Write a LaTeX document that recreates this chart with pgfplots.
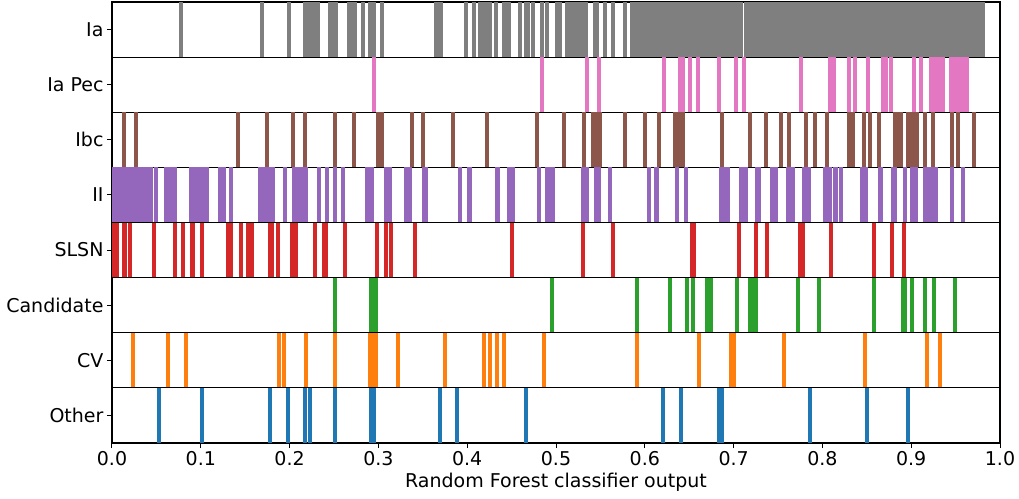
\documentclass[border=0pt]{standalone}
\usepackage{pgfplots}
\pgfplotsset{compat=1.18}
\usepackage{fontspec}
\setmainfont{DejaVu Sans}
\definecolor{cgray}{HTML}{7F7F7F}
\definecolor{cpink}{HTML}{E377C2}
\definecolor{cbrown}{HTML}{8C564B}
\definecolor{cpurple}{HTML}{9467BD}
\definecolor{cred}{HTML}{D62728}
\definecolor{cgreen}{HTML}{2CA02C}
\definecolor{corange}{HTML}{FF7F0E}
\definecolor{cblue}{HTML}{1F77B4}
\pgfplotsset{
  rug/.style={
    scale only axis, width=888pt, height=55.125pt,
    anchor=north west,
    xmin=0, xmax=1, ymin=0, ymax=1,
    ytick={0.5}, xtick=\empty,
    tick align=outside, major tick length=5pt,
    tick pos=left,
    axis line style={black, line width=1.1pt},
    tick style={black, line width=1pt},
    every tick label/.append style={font=\fontsize{19}{22}\selectfont},
    label style={font=\fontsize{19}{22}\selectfont},
    clip=true,
  },
  rl/.style={ycomb, no marks, line width=4pt, color=#1},
}
\begin{document}
\begin{tikzpicture}
\path (-112pt,2pt) rectangle (907pt,-496pt);
% Ia
\begin{axis}[rug, at={(0pt,0pt)}, yticklabels={Ia}]
\addplot[rl=cgray] coordinates {(0.0777,1)(0.169,1)(0.199,1)
(0.2173,1)(0.2213,1)(0.2253,1)(0.2293,1)(0.2324,1)
(0.246,1)(0.2495,1)(0.2518,1)
(0.2673,1)(0.271,1)(0.2733,1)
(0.2825,1)(0.291,1)(0.2948,1)(0.304,1)
(0.3643,1)(0.368,1)(0.3708,1)
(0.3987,1)(0.408,1)
(0.4148,1)(0.4188,1)(0.4228,1)(0.4253,1)
(0.4325,1)(0.441,1)(0.4422,1)(0.4475,1)(0.46,1)(0.4666,1)(0.4685,1)(0.4744,1)(0.4842,1)(0.49,1)
(0.5012,1)(0.5042,1)
(0.5124,1)(0.5164,1)(0.5204,1)(0.5244,1)(0.5284,1)(0.5324,1)(0.5341,1)
(0.5436,1)(0.5461,1)(0.5556,1)(0.5645,1)(0.578,1)
(0.5856,1)(0.5896,1)(0.5936,1)(0.5976,1)(0.6016,1)(0.6056,1)(0.6096,1)(0.6136,1)(0.6176,1)(0.6216,1)
(0.6256,1)(0.6296,1)(0.6336,1)(0.6376,1)(0.6416,1)(0.6456,1)(0.6496,1)(0.6536,1)(0.6576,1)(0.6616,1)
(0.6656,1)(0.6696,1)(0.6736,1)(0.6776,1)(0.6816,1)(0.6856,1)(0.6896,1)(0.6936,1)(0.6976,1)(0.7016,1)
(0.7056,1)(0.7085,1)
(0.7135,1)(0.7175,1)(0.7215,1)(0.7255,1)(0.7295,1)(0.7335,1)(0.7375,1)(0.7415,1)(0.7455,1)(0.7495,1)
(0.7535,1)(0.7575,1)(0.7615,1)(0.7655,1)(0.7695,1)(0.7735,1)(0.7775,1)(0.7815,1)(0.7855,1)(0.7895,1)
(0.7935,1)(0.7975,1)(0.8015,1)(0.8055,1)(0.8095,1)(0.8135,1)(0.8175,1)(0.8215,1)(0.8255,1)(0.8295,1)
(0.8335,1)(0.8375,1)(0.8415,1)(0.8455,1)(0.8495,1)(0.8535,1)(0.8575,1)(0.8615,1)(0.8655,1)(0.8695,1)
(0.8735,1)(0.8775,1)(0.8815,1)(0.8855,1)(0.8895,1)(0.8935,1)(0.8975,1)(0.9015,1)(0.9055,1)(0.9095,1)
(0.9135,1)(0.9175,1)(0.9215,1)(0.9255,1)(0.9295,1)(0.9335,1)(0.9375,1)(0.9415,1)(0.9455,1)(0.9495,1)
(0.9535,1)(0.9575,1)(0.9615,1)(0.9655,1)(0.9695,1)(0.9735,1)(0.9775,1)(0.9805,1)};
\end{axis}
% Ia Pec
\begin{axis}[rug, at={(0pt,-55.125pt)}, yticklabels={Ia Pec}]
\addplot[rl=cpink] coordinates {(0.295,1)(0.484,1)(0.535,1)(0.548,1)(0.622,1)(0.640,1)(0.643,1)(0.651,1)(0.660,1)
(0.684,1)(0.7025,1)(0.712,1)(0.776,1)(0.808,1)(0.813,1)(0.8295,1)(0.837,1)(0.8516,1)
(0.868,1)(0.872,1)(0.877,1)(0.903,1)(0.911,1)
(0.922,1)(0.926,1)(0.930,1)(0.934,1)(0.936,1)
(0.945,1)(0.949,1)(0.953,1)(0.957,1)(0.961,1)(0.963,1)};
\end{axis}
% Ibc
\begin{axis}[rug, at={(0pt,-110.25pt)}, yticklabels={Ibc}]
\addplot[rl=cbrown] coordinates {(0.0131,1)(0.027,1)(0.1415,1)(0.174,1)(0.204,1)(0.2178,1)(0.251,1)(0.272,1)
(0.300,1)(0.3037,1)(0.338,1)(0.350,1)(0.384,1)(0.422,1)(0.479,1)(0.509,1)(0.532,1)
(0.542,1)(0.545,1)(0.549,1)(0.578,1)(0.6006,1)(0.616,1)(0.634,1)(0.636,1)(0.639,1)(0.643,1)
(0.687,1)(0.718,1)(0.7365,1)(0.753,1)(0.762,1)(0.7815,1)(0.792,1)(0.805,1)(0.8296,1)(0.835,1)
(0.847,1)(0.854,1)(0.864,1)(0.882,1)(0.885,1)(0.888,1)(0.896,1)(0.901,1)(0.9035,1)(0.906,1)
(0.915,1)(0.9245,1)(0.946,1)(0.953,1)(0.971,1)};
\end{axis}
% II
\begin{axis}[rug, at={(0pt,-165.375pt)}, yticklabels={II}]
\addplot[rl=cpurple] coordinates {(0.0026,1)(0.0066,1)(0.0106,1)(0.0146,1)(0.0186,1)(0.0226,1)(0.0266,1)(0.0306,1)(0.0346,1)(0.0386,1)(0.0426,1)(0.0443,1)
(0.049,1)(0.0612,1)(0.0652,1)(0.0692,1)(0.0705,1)
(0.089,1)(0.093,1)(0.097,1)(0.101,1)(0.105,1)(0.1073,1)
(0.1221,1)(0.1257,1)(0.1344,1)
(0.1671,1)(0.1711,1)(0.1751,1)(0.1791,1)(0.1813,1)
(0.1946,1)(0.2046,1)(0.2086,1)(0.2126,1)(0.2166,1)(0.218,1)
(0.2331,1)(0.2421,1)(0.2513,1)(0.26,1)
(0.2868,1)(0.2908,1)(0.2931,1)(0.3082,1)(0.3122,1)(0.3134,1)
(0.3311,1)(0.3351,1)(0.3355,1)(0.3514,1)(0.3539,1)
(0.3919,1)(0.4017,1)(0.4027,1)(0.4336,1)(0.4346,1)(0.4475,1)(0.4515,1)
(0.4806,1)(0.4899,1)(0.4939,1)(0.4966,1)
(0.5305,1)(0.5345,1)(0.5352,1)(0.5455,1)(0.548,1)(0.5604,1)
(0.6051,1)(0.613,1)(0.614,1)(0.6366,1)(0.646,1)
(0.6854,1)(0.6894,1)(0.6936,1)(0.708,1)(0.712,1)(0.7139,1)
(0.7268,1)(0.7289,1)(0.7437,1)(0.7473,1)
(0.7617,1)(0.7657,1)(0.7668,1)(0.7793,1)(0.7833,1)(0.7845,1)
(0.8033,1)(0.8073,1)(0.8081,1)(0.8146,1)(0.8156,1)(0.8209,1)
(0.845,1)(0.8486,1)(0.8645,1)(0.8663,1)(0.8799,1)(0.8813,1)(0.8926,1)
(0.9013,1)(0.9054,1)(0.916,1)(0.92,1)(0.924,1)(0.9275,1)(0.9455,1)(0.9578,1)};
\end{axis}
% SLSN
\begin{axis}[rug, at={(0pt,-220.5pt)}, yticklabels={SLSN}]
\addplot[rl=cred] coordinates {(0.0026,1)(0.0056,1)(0.0132,1)(0.0146,1)(0.0199,1)(0.0473,1)(0.0713,1)(0.0798,1)
(0.0901,1)(0.0915,1)(0.1016,1)(0.131,1)(0.134,1)(0.1455,1)(0.1532,1)(0.1572,1)(0.158,1)
(0.1783,1)(0.1797,1)(0.1868,1)(0.2024,1)(0.2064,1)(0.2072,1)(0.2288,1)(0.2384,1)(0.2409,1)
(0.2628,1)(0.298,1)(0.308,1)(0.314,1)(0.3416,1)(0.4504,1)(0.5308,1)(0.5646,1)
(0.6532,1)(0.6554,1)(0.7066,1)(0.7256,1)(0.7381,1)(0.7752,1)(0.7781,1)(0.8096,1)
(0.8585,1)(0.8787,1)(0.8915,1)};
\end{axis}
% Candidate
\begin{axis}[rug, at={(0pt,-275.625pt)}, yticklabels={Candidate}]
\addplot[rl=cgreen] coordinates {(0.2515,1)(0.2916,1)(0.294,1)(0.297,1)(0.496,1)(0.5915,1)(0.628,1)(0.648,1)(0.654,1)
(0.6695,1)(0.673,1)(0.675,1)(0.704,1)(0.718,1)(0.722,1)(0.7255,1)(0.772,1)(0.7965,1)
(0.858,1)(0.891,1)(0.893,1)(0.901,1)(0.915,1)(0.9255,1)(0.949,1)};
\end{axis}
% CV
\begin{axis}[rug, at={(0pt,-330.75pt)}, yticklabels={CV}]
\addplot[rl=corange] coordinates {(0.0233,1)(0.0635,1)(0.083,1)(0.1886,1)(0.194,1)(0.218,1)(0.2515,1)
(0.290,1)(0.294,1)(0.297,1)(0.322,1)(0.3755,1)(0.419,1)(0.426,1)(0.434,1)(0.441,1)(0.487,1)
(0.591,1)(0.661,1)(0.697,1)(0.700,1)(0.757,1)(0.848,1)(0.918,1)(0.932,1)};
\end{axis}
% Other
\begin{axis}[rug, at={(0pt,-385.875pt)}, yticklabels={Other},
  xtick={0,0.1,0.2,0.3,0.4,0.5,0.6,0.7,0.8,0.9,1},
  xticklabels={0.0,0.1,0.2,0.3,0.4,0.5,0.6,0.7,0.8,0.9,1.0},
  xlabel={Random Forest classifier output}]
\addplot[rl=cblue] coordinates {(0.0525,1)(0.101,1)(0.178,1)(0.1985,1)(0.217,1)(0.2225,1)(0.251,1)
(0.292,1)(0.2955,1)(0.369,1)(0.389,1)(0.466,1)(0.621,1)(0.6405,1)(0.684,1)(0.6865,1)
(0.786,1)(0.8505,1)(0.8965,1)};
\end{axis}
\end{tikzpicture}
\end{document}
